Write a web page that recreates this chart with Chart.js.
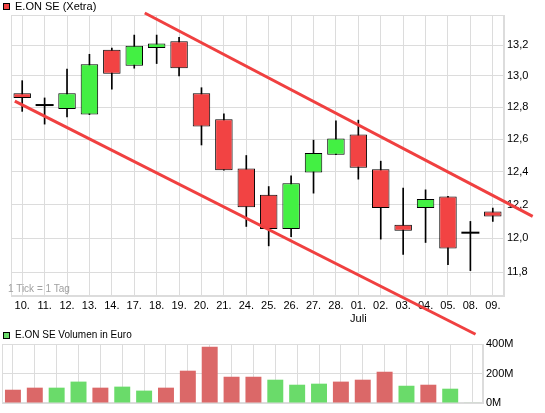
<!DOCTYPE html>
<html>
<head>
<meta charset="utf-8">
<script src="https://cdn.jsdelivr.net/npm/chart.js@4.4.0/dist/chart.umd.min.js"></script>
<style>
body { margin: 0; background: #fff; font-family: "Liberation Sans", Arial, sans-serif; }
#wrap { position: relative; width: 545px; height: 413px; overflow: hidden; }
canvas { position: absolute; left: 0; }
.box { position: absolute; left: 3px; width: 7px; height: 7px; box-sizing: border-box; border: 1px solid #000; }
.txt { position: absolute; white-space: nowrap; color: #000; }
</style>
</head>
<body>
<div id="wrap">
  <canvas id="price" width="545" height="413" style="top:0"></canvas>
  <canvas id="volume" width="545" height="83" style="top:330px"></canvas>
  <div class="box" style="top:3px;background:#f24343"></div>
  <div class="txt" style="left:15px;top:0;font-size:11px;line-height:13px">E.ON SE (Xetra)</div>
  <div class="txt" style="left:8px;top:283px;font-size:10px;line-height:12px;color:#a0a0a0">1 Tick = 1 Tag</div>
  <div class="box" style="top:332px;background:#6adb6a"></div>
  <div class="txt" style="left:15px;top:329px;font-size:10px;line-height:12px">E.ON SE Volumen in Euro</div>
</div>
<script>
const days = ['10.', '11.', '12.', '13.', '14.', '17.', '18.', '19.', '20.', '21.', '24.',
  '25.', '26.', '27.', '28.', '01.', '02.', '03.', '04.', '05.', '08.', '09.'];
const monthStart = 15;
const monthName = 'Juli';

const opens  = [12.89, 12.815, 12.79, 12.755, 13.17, 13.065, 13.18, 13.225, 12.89, 12.725, 12.42,
  12.26, 12.055, 12.395, 12.505, 12.63, 12.415, 12.08, 12.18, 12.25, 12.033, 12.16];
const highs  = [12.97, 12.86, 13.045, 13.14, 13.18, 13.265, 13.265, 13.25, 12.925, 12.76, 12.5,
  12.31, 12.375, 12.595, 12.715, 12.72, 12.465, 12.3, 12.29, 12.25, 12.10, 12.18];
const lows   = [12.775, 12.695, 12.74, 12.755, 12.915, 13.05, 13.08, 13.0, 12.565, 12.41, 12.07,
  11.955, 12.01, 12.27, 12.505, 12.355, 11.995, 11.905, 11.975, 11.845, 11.81, 12.10];
const closes = [12.86, 12.815, 12.89, 13.075, 13.015, 13.195, 13.21, 13.05, 12.68, 12.41, 12.185,
  12.055, 12.33, 12.515, 12.605, 12.425, 12.18, 12.045, 12.235, 11.94, 12.033, 12.13];

// volume in million euro
const volumes = [90, 104, 104, 145, 104, 111, 84, 104, 219, 382, 178,
  178, 158, 124, 131, 145, 158, 212, 117, 124, 97, 3];

const priceTicks = [11.8, 12.0, 12.2, 12.4, 12.6, 12.8, 13.0, 13.2];
const volumeTicks = [0, 200, 400];

// trend channel, x in day index
const upperTrend = [{ x: 5.47, y: 13.41 }, { x: 22.78, y: 12.13 }];
const lowerTrend = [{ x: -0.33, y: 12.84 }, { x: 20.23, y: 11.445 }];

const RED = '#f24343', GREEN = '#43f043', LINE = '#f04040';
const GRID = '#dcdcdc';

Chart.defaults.font.family = '"Liberation Sans", Arial, sans-serif';
Chart.defaults.font.size = 11;
Chart.defaults.color = '#000';

const frame = {
  id: 'frame',
  beforeDatasetsDraw(chart) {
    const { ctx, chartArea: a } = chart;
    ctx.save();
    ctx.strokeStyle = GRID;
    ctx.lineWidth = 1;
    ctx.strokeRect(Math.round(a.left) + 0.5, Math.round(a.top) + 0.5,
      Math.round(a.width) - 1, Math.round(a.height) - 1);
    ctx.restore();
  }
};

const isDoji = i => opens[i] === closes[i];

new Chart(document.getElementById('price'), {
  type: 'bar',
  data: {
    labels: days,
    datasets: [
      {
        type: 'line', xAxisID: 'xl', data: upperTrend, borderColor: LINE, borderWidth: 3,
        pointRadius: 0, clip: false, order: 0
      },
      {
        type: 'line', xAxisID: 'xl', data: lowerTrend, borderColor: LINE, borderWidth: 3,
        pointRadius: 0, clip: false, order: 0
      },
      {
        type: 'line', xAxisID: 'x', showLine: false,
        data: closes.map((c, i) => isDoji(i) ? c : null),
        pointStyle: 'line', pointRadius: 9, pointBorderWidth: 2, borderColor: '#000', order: 1
      },
      {
        xAxisID: 'x', grouped: false, order: 2,
        data: opens.map((o, i) => isDoji(i) ? null : [o, closes[i]]),
        backgroundColor: opens.map((o, i) => closes[i] >= o ? GREEN : RED),
        borderColor: '#000', borderWidth: 1, borderSkipped: false,
        barPercentage: 0.78, categoryPercentage: 1
      },
      {
        xAxisID: 'x', grouped: false, order: 3,
        data: lows.map((l, i) => [l, highs[i]]),
        backgroundColor: '#000', barThickness: 1
      }
    ]
  },
  options: {
    responsive: false,
    animation: false,
    layout: { padding: { left: 2, top: 15, right: 0, bottom: 87 } },
    plugins: { legend: { display: false }, tooltip: { enabled: false } },
    scales: {
      x: {
        type: 'category', offset: true,
        grid: { offset: false, color: GRID, drawTicks: false },
        border: { color: GRID },
        ticks: {
          padding: 3, autoSkip: false, maxRotation: 0,
          callback: (v, i) => i === monthStart ? [days[i], monthName] : days[i]
        },
        afterFit: s => { s.height = 30; }
      },
      xl: { type: 'linear', display: false, offset: false, min: -0.5, max: 21.5 },
      y: {
        type: 'logarithmic', position: 'right', min: 11.663, max: 13.397,
        afterBuildTicks: s => { s.ticks = priceTicks.map(v => ({ value: v })); },
        grid: { color: GRID, drawTicks: false },
        border: { color: GRID },
        ticks: { padding: 3, callback: v => v.toFixed(1).replace('.', ',') },
        afterFit: s => { s.width = 41; }
      }
    }
  },
  plugins: [frame]
});

const volColors = volumes.map((v, i) => {
  const up = i === 0 ? closes[0] >= opens[0] : closes[i] >= closes[i - 1];
  return up ? '#6adb6a' : '#db6868';
});

new Chart(document.getElementById('volume'), {
  type: 'bar',
  data: {
    labels: days,
    datasets: [{
      data: volumes, backgroundColor: volColors,
      barPercentage: 0.73, categoryPercentage: 1
    }]
  },
  options: {
    responsive: false,
    animation: false,
    layout: { padding: { left: 2, top: 14, right: 0, bottom: 0 } },
    plugins: { legend: { display: false }, tooltip: { enabled: false } },
    scales: {
      x: {
        grid: { offset: false, color: GRID, drawTicks: false },
        border: { color: GRID },
        ticks: { display: false },
        afterFit: s => { s.height = 10; }
      },
      y: {
        position: 'right', min: 0, max: 400,
        afterBuildTicks: s => { s.ticks = volumeTicks.map(v => ({ value: v })); },
        grid: { color: GRID, drawTicks: false },
        border: { color: GRID },
        ticks: { padding: 3, callback: v => v + 'M' },
        afterFit: s => { s.width = 62; }
      }
    }
  },
  plugins: [frame]
});
</script>
</body>
</html>
